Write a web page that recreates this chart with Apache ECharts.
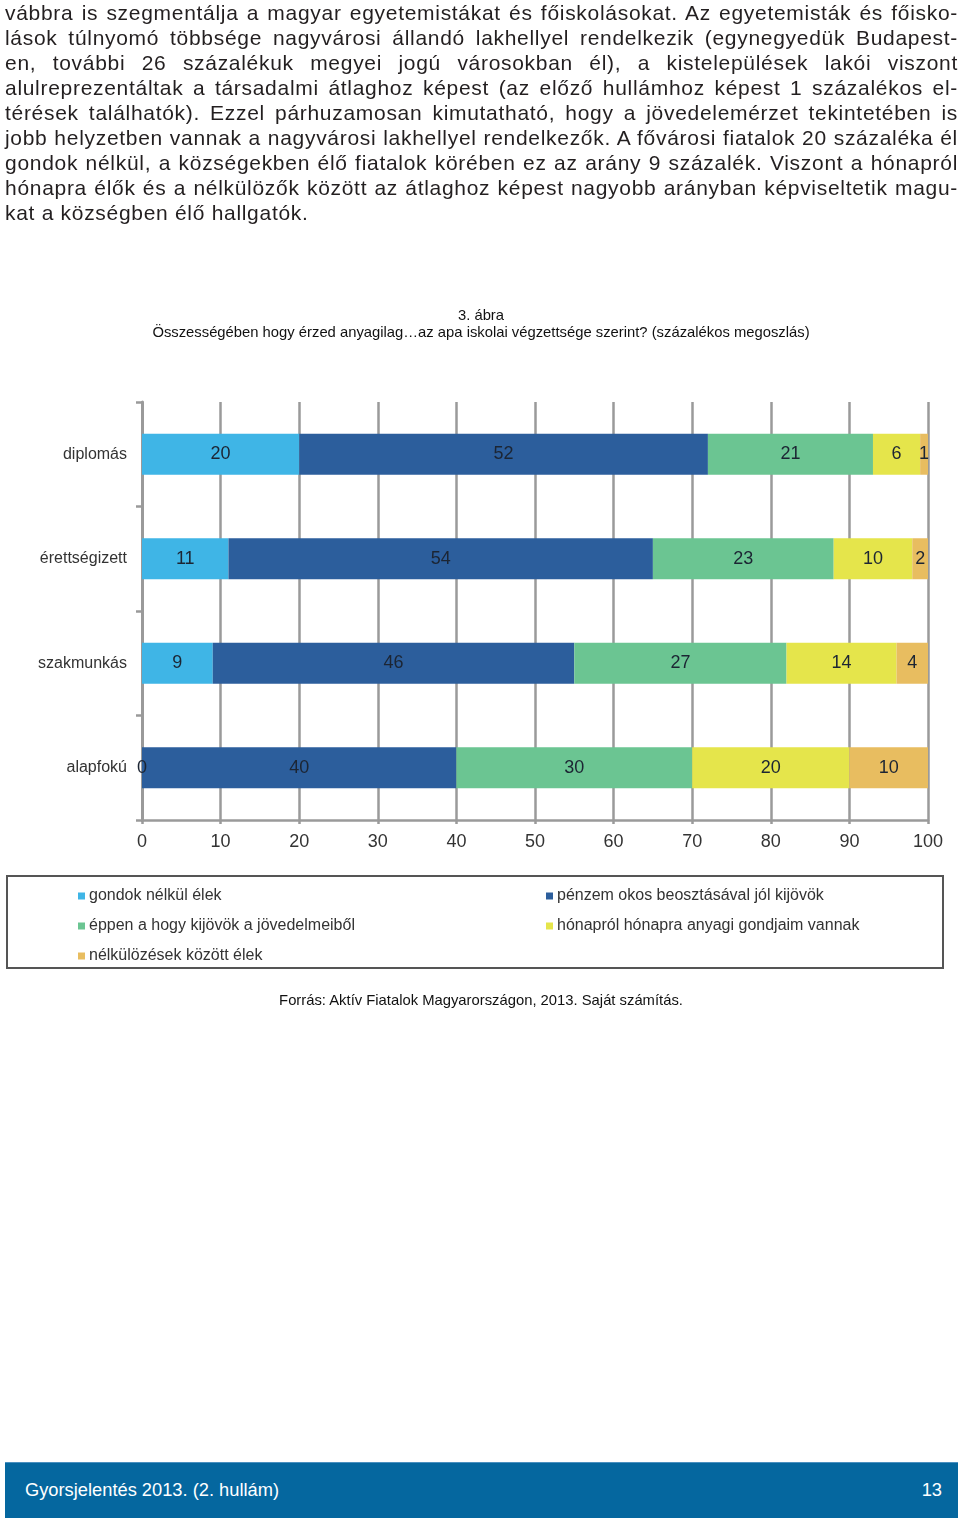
<!DOCTYPE html>
<html>
<head>
<meta charset="utf-8">
<script src="https://cdn.jsdelivr.net/npm/echarts@6/dist/echarts.min.js"></script>
<style>
  html, body { margin: 0; padding: 0; background: #fff; }
  body { width: 960px; height: 1519px; position: relative; overflow: hidden; font-family: 'Liberation Sans', Arial, Helvetica, sans-serif; color: #231f20; }
  #chart { position: absolute; left: 0; top: 0; width: 960px; height: 1519px; }
  .para { position: absolute; left: 5px; top: 0px; width: 953px; font-size: 21px; letter-spacing: 0.7px; line-height: 25px; z-index: 2; }
  .para div { white-space: nowrap; text-align: justify; text-align-last: justify; }
  .para div.last { text-align-last: left; }
  .cap { position: absolute; left: 0; width: 962px; text-align: center; font-size: 14.8px; z-index: 2; color: #111; }
  .footer { position: absolute; left: 5px; top: 1462px; width: 953px; height: 55px; background: #05679f; border-top: 1px solid #4a90c0; z-index: 2; color: #fff; font-size: 18.3px; }
  .footer .l { position: absolute; left: 20px; top: 16px; }
  .footer .r { position: absolute; right: 16px; top: 16px; }
</style>
</head>
<body>
<div id="chart"></div>
<div class="para">
  <div>vábbra is szegmentálja a magyar egyetemistákat és főiskolásokat. Az egyetemisták és főisko-</div>
  <div>lások túlnyomó többsége nagyvárosi állandó lakhellyel rendelkezik (egynegyedük Budapest-</div>
  <div>en, további 26 százalékuk megyei jogú városokban él), a kistelepülések lakói viszont</div>
  <div>alulreprezentáltak a társadalmi átlaghoz képest (az előző hullámhoz képest 1 százalékos el-</div>
  <div>térések találhatók). Ezzel párhuzamosan kimutatható, hogy a jövedelemérzet tekintetében is</div>
  <div>jobb helyzetben vannak a nagyvárosi lakhellyel rendelkezők. A fővárosi fiatalok 20 százaléka él</div>
  <div>gondok nélkül, a községekben élő fiatalok körében ez az arány 9 százalék. Viszont a hónapról</div>
  <div>hónapra élők és a nélkülözők között az átlaghoz képest nagyobb arányban képviseltetik magu-</div>
  <div class="last">kat a községben élő hallgatók.</div>
</div>
<div class="cap" style="top:307px;">3. ábra</div>
<div class="cap" style="top:324px;">Összességében hogy érzed anyagilag…az apa iskolai végzettsége szerint? (százalékos megoszlás)</div>
<div class="cap" style="top:992px;">Forrás: Aktív Fiatalok Magyarországon, 2013. Saját számítás.</div>
<div class="footer"><span class="l">Gyorsjelentés 2013. (2. hullám)</span><span class="r">13</span></div>
<script>
const categories = ['diplomás', 'érettségizett', 'szakmunkás', 'alapfokú'];
const seriesNames = [
  'gondok nélkül élek',
  'pénzem okos beosztásával jól kijövök',
  'éppen a hogy kijövök a jövedelmeiből',
  'hónapról hónapra anyagi gondjaim vannak',
  'nélkülözések között élek'
];
const gondokNelkul = [20, 11, 9, 0];
const jolKijovok = [52, 54, 46, 40];
const eppenKijovok = [21, 23, 27, 30];
const honaprolHonapra = [6, 10, 14, 20];
const nelkulozesek = [1, 2, 4, 10];
const xTicks = [0, 10, 20, 30, 40, 50, 60, 70, 80, 90, 100];

const seriesValues = [gondokNelkul, jolKijovok, eppenKijovok, honaprolHonapra, nelkulozesek];
const colors = ['#3fb5e6', '#2c5e9c', '#6bc592', '#e5e54b', '#e8bd60'];
const narrow = "'Liberation Sans Narrow', 'Liberation Sans', Arial, sans-serif";

const chart = echarts.init(document.getElementById('chart'), null, { renderer: 'canvas' });
chart.setOption({
  animation: false,
  backgroundColor: 'transparent',
  grid: { left: 142, right: 32, top: 402, height: 418, containLabel: false },
  xAxis: {
    type: 'value', min: xTicks[0], max: xTicks[xTicks.length - 1], interval: 10,
    axisLine: { show: true, lineStyle: { color: '#9a9a9a', width: 2.5 } },
    axisTick: { show: true, length: 4, lineStyle: { color: '#9a9a9a', width: 2.5 } },
    axisLabel: { color: '#333', fontSize: 18, fontFamily: narrow, margin: 13 },
    splitLine: { show: true, lineStyle: { color: '#9a9a9a', width: 2.5 } }
  },
  yAxis: {
    type: 'category', data: categories, inverse: true,
    axisLine: { show: true, lineStyle: { color: '#9a9a9a', width: 3 } },
    axisTick: { show: true, length: 6, lineStyle: { color: '#9a9a9a', width: 2.5 } },
    axisLabel: { color: '#333', fontSize: 16, fontFamily: narrow, margin: 15 }
  },
  legend: [
    {
      data: [seriesNames[0], seriesNames[2], seriesNames[4]],
      orient: 'vertical', left: 78, top: 887, padding: 0, itemGap: 12,
      itemWidth: 7, itemHeight: 7, icon: 'rect', itemStyle: { borderWidth: 0 },
      textStyle: { color: '#333', fontSize: 16, fontFamily: narrow, padding: [0, 0, 0, -1], lineHeight: 18 }
    },
    {
      data: [seriesNames[1], seriesNames[3]],
      orient: 'vertical', left: 546, top: 887, padding: 0, itemGap: 12,
      itemWidth: 7, itemHeight: 7, icon: 'rect', itemStyle: { borderWidth: 0 },
      textStyle: { color: '#333', fontSize: 16, fontFamily: narrow, padding: [0, 0, 0, -1], lineHeight: 18 }
    }
  ],
  graphic: [
    { type: 'rect', shape: { x: 7, y: 876, width: 936, height: 92 }, style: { fill: 'none', stroke: '#555', lineWidth: 2 } }
  ],
  series: seriesNames.map((name, i) => ({
    name: name,
    type: 'bar',
    stack: 'total',
    barWidth: 41,
    data: seriesValues[i],
    itemStyle: { color: colors[i] },
    label: { show: true, position: 'inside', color: '#1c2533', fontSize: 18, fontFamily: narrow },
    emphasis: { disabled: true }
  }))
});
</script>
</body>
</html>
